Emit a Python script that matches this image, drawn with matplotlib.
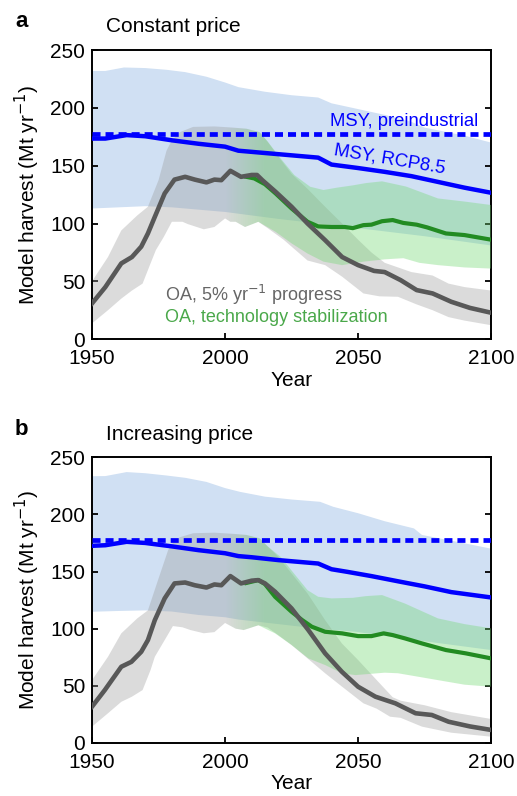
import numpy as np
import matplotlib
matplotlib.use("Agg")
import matplotlib.pyplot as plt
from matplotlib.patches import Polygon

plt.rcParams['font.family'] = ['Liberation Sans', 'DejaVu Sans']

# ---------------- Panel a data (constant price) ----------------
a_msy_yr = [1950, 1955, 1963, 1970, 1980, 1990, 2000, 2005, 2010, 2020, 2030, 2035, 2040, 2050, 2060, 2070, 2080, 2090, 2100]
a_msy = [173.5, 173.5, 176.5, 175.5, 172, 169, 166.5, 163, 162, 160, 158, 157, 151, 148, 144.7, 141, 136, 131, 126.6]
msy_pre_yr = [1950, 2100]
a_msy_pre = [177.5, 177.5]

a_blue_up_yr = [1950, 1955, 1962, 1970, 1978, 1985, 1993, 2000, 2005, 2015, 2025, 2035, 2040, 2050, 2060, 2070, 2075, 2090, 2100]
a_blue_up = [232, 232, 235, 234.5, 233, 231, 227, 222, 218, 214, 211, 209, 204, 199, 194, 188, 183, 176, 170]
a_blue_lo_yr = [1950, 1960, 1970, 1980, 1990, 2000, 2010, 2020, 2035, 2050, 2075, 2100]
a_blue_lo = [113, 114, 115, 114, 112, 110, 107, 104, 100, 96, 89, 81]

a_grey_up_yr = [1950, 1956, 1961, 1967, 1971, 1975, 1978, 1980, 1983, 1988, 1996, 2003, 2008, 2013, 2016, 2021, 2025, 2031, 2037.6, 2044, 2050, 2055, 2060, 2065, 2070, 2078, 2084, 2090, 2100]
a_grey_up = [50, 71, 94, 107, 114.5, 137.5, 163, 172, 179, 183.6, 184, 183, 182, 179, 170.7, 155, 143, 130, 114.5, 100, 86, 75, 66, 62, 58, 55, 48, 45, 42]
a_grey_lo_yr = [1950, 1956, 1961, 1965, 1969, 1972, 1974, 1977, 1980, 1984, 1986, 1992, 1996, 2000, 2002, 2004, 2007.5, 2012.5, 2016, 2022, 2031, 2037.6, 2044, 2052, 2058, 2065, 2072, 2078, 2084, 2090, 2100]
a_grey_lo = [13.6, 25, 35, 42, 48, 65.5, 77, 88.5, 101.5, 101.5, 99.5, 95, 97, 104.4, 101.5, 101.5, 97, 101.5, 96, 86, 68, 64, 54, 39.5, 37, 36.6, 30, 25, 19, 16, 12]
a_grey_yr = [1950, 1955, 1961, 1965, 1968.5, 1971, 1973.6, 1977.3, 1981, 1985, 1988.6, 1993, 1996, 1998.6, 2002, 2006, 2010, 2012, 2014, 2019, 2025, 2031, 2037.6, 2044, 2050, 2056, 2060, 2066, 2072, 2078, 2085, 2092, 2100]
a_grey = [30.9, 45, 65.5, 71, 80, 91.4, 105.8, 126, 138, 140.4, 138, 135.6, 138, 137.5, 145.6, 140.4, 142, 142, 137.5, 127.4, 114.5, 100, 85.6, 71, 64, 59, 58, 51, 42.4, 39.5, 32.3, 27, 22.8]

a_green_yr = [2008, 2011, 2015, 2019, 2025, 2031, 2035, 2040, 2045, 2048, 2052, 2055, 2059, 2063, 2067, 2072, 2076, 2083, 2090, 2095, 2100]
a_green = [140.4, 139, 134, 126, 113, 101.5, 97.5, 97, 97, 96, 98.6, 99, 102, 103, 100.5, 99, 96.6, 91.4, 90, 88, 86]
a_green_up_yr = [2000, 2008, 2013, 2016, 2021, 2026, 2032, 2037, 2042, 2048, 2053, 2059, 2064, 2068, 2075, 2080, 2090, 2100]
a_green_up = [183, 182, 179, 171, 156, 142, 131.8, 129, 131, 133, 135, 136.5, 134, 132, 126, 121.7, 119, 116]
a_green_lo_yr = [2000, 2002, 2004, 2007.5, 2012.5, 2019, 2025, 2031, 2037, 2044, 2052, 2060, 2067, 2073, 2080, 2090, 2100]
a_green_lo = [104.4, 101.5, 101.5, 97, 101.5, 92.8, 82.8, 74, 67, 64, 67, 69, 70, 66, 64, 62, 61]

# ---------------- Panel b data (increasing price) ----------------
b_msy_yr = [1950, 1955, 1963, 1970, 1980, 1990, 2000, 2005, 2010, 2020, 2030, 2035, 2040, 2046, 2055, 2066, 2075, 2085, 2100]
b_msy = [172.5, 173, 176, 175, 172, 168.7, 166, 163.5, 162.5, 160, 158, 157, 152, 149.7, 146, 141, 137, 132, 127.3]
b_msy_pre = [177.5, 177.5]

b_blue_up_yr = [1950, 1955, 1963, 1970, 1978, 1985, 1993, 2000, 2005.6, 2015, 2025, 2035.7, 2040.7, 2050, 2060, 2071, 2074, 2085, 2100]
b_blue_up = [233.4, 233.5, 237, 236, 234, 232, 228.4, 223, 219.7, 215.5, 213, 211, 206.6, 201, 194, 187.7, 182, 177, 170]
b_blue_lo_yr = [1950, 1960, 1970, 1980, 1990, 2000, 2005, 2020, 2035, 2049, 2075, 2100]
b_blue_lo = [114.8, 115.5, 116, 115, 112, 110, 108, 104, 100, 97.3, 89, 81.3]

b_grey_up_yr = [1950, 1956, 1961, 1967, 1971, 1974.8, 1978.6, 1980, 1983, 1988, 1996, 2003, 2008, 2013, 2016, 2020, 2025, 2031, 2037.6, 2043.9, 2050, 2057, 2063, 2066, 2075, 2085, 2100]
b_grey_up = [55, 75.4, 95.9, 109, 116, 142.5, 168.7, 174, 180, 183.5, 184, 183, 182, 179, 172, 162.9, 148.3, 130.8, 107.5, 87.1, 72.6, 55, 40, 37, 33, 27, 21]
b_grey_lo_yr = [1950, 1956, 1961, 1965, 1969, 1972, 1973.6, 1977.3, 1980.4, 1984, 1987, 1992, 1996, 2000, 2004, 2007, 2012.5, 2016, 2020, 2025, 2031, 2037.6, 2044, 2052, 2057, 2062, 2066, 2074, 2085, 2100]
b_grey_lo = [14.3, 26, 36, 40.5, 46.3, 63.8, 75.4, 90, 102.3, 101.2, 98.8, 96, 97, 105, 100, 98.8, 103, 101, 94.4, 85.7, 74, 61, 49.2, 34.7, 30, 23, 22, 14.3, 9, 5.5]
b_grey_yr = [1950, 1954.8, 1961, 1964.8, 1968.5, 1971, 1973.6, 1977.3, 1981, 1985, 1988.6, 1993, 1996, 1998.6, 2002, 2006, 2010, 2012.5, 2015, 2018.8, 2025, 2031.3, 2037.6, 2043.9, 2050, 2056.5, 2064, 2071.6, 2077.7, 2084, 2092, 2100]
b_grey = [31.8, 46.3, 66.7, 71, 79.8, 90, 107.5, 126.5, 139.6, 140.4, 138, 136, 138.7, 138, 146, 139.6, 142, 142.5, 139.6, 132.3, 117.7, 98.8, 78.4, 62.3, 49.2, 40.5, 34.7, 26, 24.5, 18.6, 14.5, 11.4]

b_green_yr = [2008, 2012.5, 2015, 2018.8, 2025, 2029, 2032.6, 2037.6, 2044, 2050, 2055, 2059.6, 2063, 2067.6, 2074, 2083, 2090.5, 2100]
b_green = [140, 142.5, 139, 127.9, 114.8, 107.5, 101.7, 97.3, 95.9, 93.5, 93.5, 95.9, 94.4, 91.5, 87.1, 81.3, 78.4, 74]
b_green_up_yr = [2000, 2008, 2013, 2016, 2021, 2026, 2031, 2035, 2040, 2048, 2053, 2059, 2067.6, 2080, 2090, 2100]
b_green_up = [183, 182, 179, 172, 162.5, 148, 133.7, 127.9, 126.5, 127, 128.5, 129.4, 122, 109, 104, 100.3]
b_green_lo_yr = [2000, 2004, 2007, 2012.5, 2018.8, 2025, 2031.3, 2037.6, 2043.9, 2049, 2060, 2065, 2080, 2090, 2100]
b_green_lo = [105, 100, 98.8, 103, 95.9, 85.7, 74, 68.2, 61, 59.4, 61.5, 61, 55, 51, 49.2]

# ---------------- styles ----------------
BLUE_BAND = '#d0e0f3'
GREY_BAND = (0.6, 0.6, 0.6)
GREEN_BAND = (0.45, 0.85, 0.45)
GREY_LINE = '#585858'
GREEN_LINE = '#228b22'


def band(ax, xu, yu, xl, yl, **kw):
    pts = list(zip(xu, yu)) + list(zip(xl, yl))[::-1]
    p = Polygon(pts, closed=True, **kw)
    ax.add_patch(p)
    return p


def panel(ax, d, letter, title):
    band(ax, d['bu_x'], d['bu'], d['bl_x'], d['bl'], facecolor=BLUE_BAND, edgecolor='none', zorder=1)
    band(ax, d['gu_x'], d['gu'], d['gl_x'], d['gl'], facecolor=GREY_BAND, alpha=0.35,
         edgecolor='none', zorder=2)
    gp = band(ax, d['nu_x'], d['nu'], d['nl_x'], d['nl'], facecolor='none', edgecolor='none', zorder=3)
    # gradient fill for the technology-stabilization band (fades in after 2000)
    x0 = d['nu_x'][0]
    xs = np.linspace(x0, 2100, 500)
    img = np.zeros((1, len(xs), 4))
    img[..., 0:3] = GREEN_BAND
    img[..., 3] = np.clip((xs - x0) / 15.0, 0, 1) * 0.38
    im = ax.imshow(img, extent=[x0, 2100, 0, 250], aspect='auto', origin='lower',
                   interpolation='bilinear', zorder=3)
    im.set_clip_path(gp)

    ax.plot(msy_pre_yr, d['pre'], color='#0000ff', lw=3.4, ls=(0, (1.7, 1.06)), zorder=5,
            dash_capstyle='butt')
    ax.plot(d['msy_x'], d['msy'], color='#0000ff', lw=3.2, zorder=5)
    ax.plot(d['gr_x'], d['gr'], color=GREEN_LINE, lw=3.0, zorder=6)
    ax.plot(d['gy_x'], d['gy'], color=GREY_LINE, lw=3.3, zorder=7)

    ax.set_xlim(1950, 2100)
    ax.set_ylim(0, 250)
    ax.set_xticks([1950, 2000, 2050, 2100])
    ax.set_yticks([0, 50, 100, 150, 200, 250])
    ax.tick_params(direction='in', length=4, width=1.3, labelsize=15, right=True)
    ax.tick_params(axis='x', pad=7)
    ax.tick_params(axis='y', pad=5)
    for s in ax.spines.values():
        s.set_linewidth(1.4)
    ax.set_xlabel('Year', fontsize=15, labelpad=2)
    ax.set_ylabel('Model harvest (Mt yr$^{-1}$)', fontsize=15, labelpad=6)
    ax.text(-0.193, 1.098, letter, transform=ax.transAxes, fontsize=16, fontweight='bold',
            va='center', ha='left')
    ax.text(0.035, 1.081, title, transform=ax.transAxes, fontsize=15, va='center', ha='left')


fig = plt.figure(figsize=(5.17, 7.96), dpi=100)
ax_a = fig.add_axes([0.178, 0.574, 0.772, 0.363])
ax_b = fig.add_axes([0.178, 0.0666, 0.772, 0.359])

da = dict(bu_x=a_blue_up_yr, bu=a_blue_up, bl_x=a_blue_lo_yr, bl=a_blue_lo,
          gu_x=a_grey_up_yr, gu=a_grey_up, gl_x=a_grey_lo_yr, gl=a_grey_lo,
          nu_x=a_green_up_yr, nu=a_green_up, nl_x=a_green_lo_yr, nl=a_green_lo,
          pre=a_msy_pre, msy_x=a_msy_yr, msy=a_msy, gr_x=a_green_yr, gr=a_green,
          gy_x=a_grey_yr, gy=a_grey)
db = dict(bu_x=b_blue_up_yr, bu=b_blue_up, bl_x=b_blue_lo_yr, bl=b_blue_lo,
          gu_x=b_grey_up_yr, gu=b_grey_up, gl_x=b_grey_lo_yr, gl=b_grey_lo,
          nu_x=b_green_up_yr, nu=b_green_up, nl_x=b_green_lo_yr, nl=b_green_lo,
          pre=b_msy_pre, msy_x=b_msy_yr, msy=b_msy, gr_x=b_green_yr, gr=b_green,
          gy_x=b_grey_yr, gy=b_grey)

panel(ax_a, da, 'a', 'Constant price')
panel(ax_b, db, 'b', 'Increasing price')

# annotations (panel a)
ax_a.text(2095, 188, 'MSY, preindustrial', color='#0000ff', fontsize=13.3, ha='right', va='center', zorder=8)
ax_a.text(2062, 155.5, 'MSY, RCP8.5', color='#0000ff', fontsize=13.3, ha='center', va='center',
          rotation=-9.5, rotation_mode='anchor', zorder=8)
ax_a.text(1977.5, 38, 'OA, 5% yr$^{-1}$ progress', color='#666666', fontsize=13, ha='left',
          va='center', zorder=8)
ax_a.text(1977.5, 19, 'OA, technology stabilization', color='#4aa84a', fontsize=13, ha='left',
          va='center', zorder=8)

fig.savefig('out.png', dpi=100)
